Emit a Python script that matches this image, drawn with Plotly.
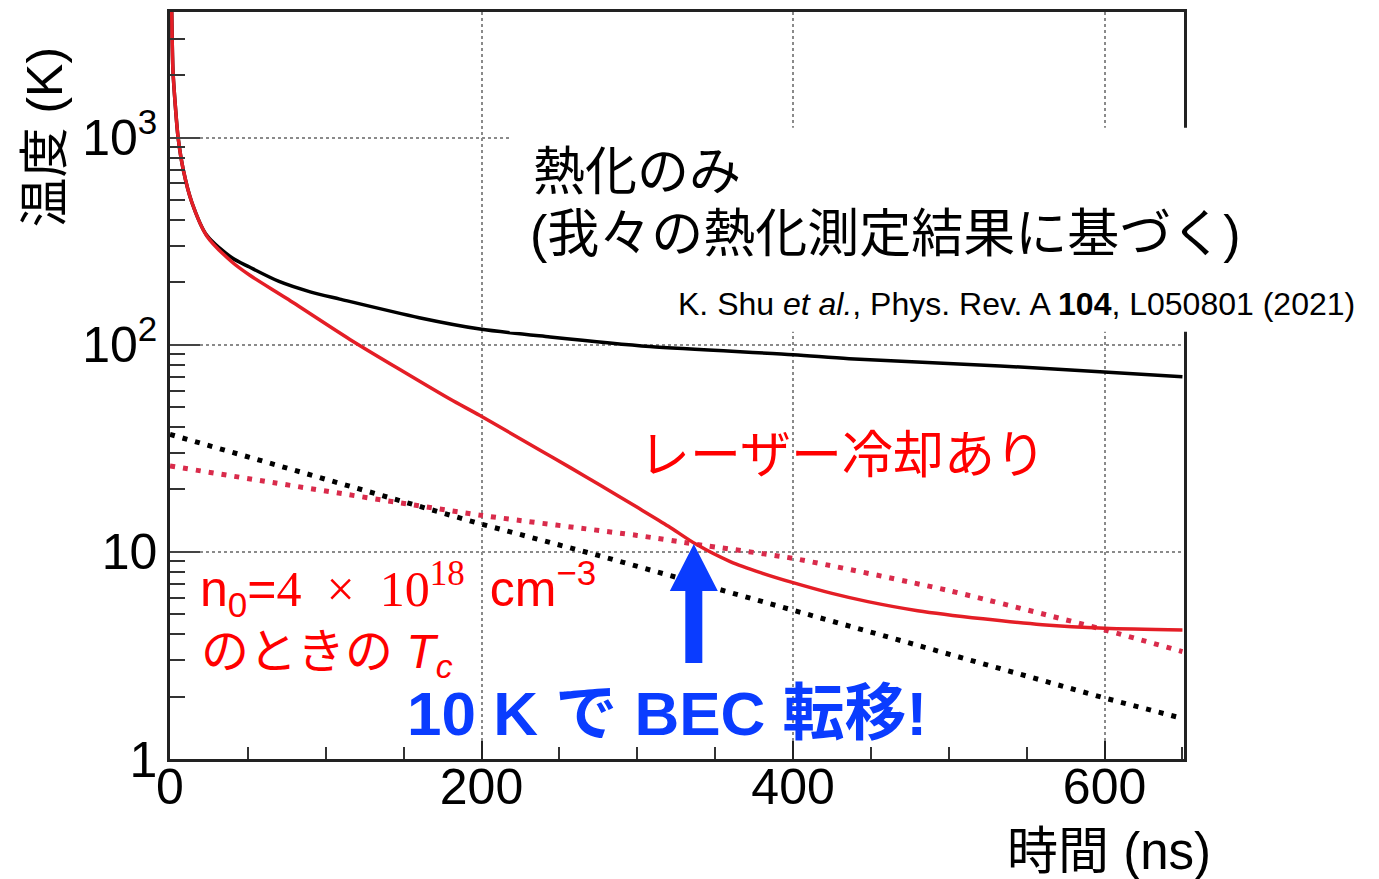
import plotly.graph_objects as go

# Time axis (ns) and temperatures (K) for each curve
t_thermal = [0.3, 1.1, 1.9, 3.5, 5.2, 8.5, 14, 23.5, 40, 51, 70, 90, 109, 160, 199, 244, 308, 400, 436, 533, 597, 650]
T_thermal = [9000, 4000, 2100, 1400, 1000, 700, 487, 338, 262, 237, 202, 180, 166, 135, 119, 109, 98, 89.5, 85.5, 79, 74, 70]

t_laser = [0.3, 1.1, 1.9, 3.5, 5.2, 8.5, 14, 23.5, 40, 51, 75, 115.5, 150, 180, 199, 239, 257, 276, 300, 320, 337.6,
           360, 380, 400, 425, 448, 480, 522, 560, 600, 650]
T_laser = [9000, 4000, 2100, 1400, 1000, 700, 487, 336, 250, 217, 167, 106, 74, 54.5, 45.5, 30.5, 25.5, 21, 16.4, 13.3, 10.9,
           8.95, 7.9, 7.1, 6.3, 5.75, 5.2, 4.75, 4.45, 4.28, 4.2]

t_tc_red = [0, 61, 200, 300, 337, 400, 500, 600, 650]
T_tc_red = [26, 21.9, 15.0, 12.0, 10.9, 9.3, 6.5, 4.2, 3.3]

t_tc_black = [0, 200, 276, 400, 600, 650]
T_tc_black = [36.9, 13.6, 9.57, 5.2, 1.97, 1.57]

# BEC transition point marked by the arrow
t_bec = 336.3
T_bec = 10.9

x_ticks = [0, 200, 400, 600]
x_minor = [50, 100, 150, 250, 300, 350, 450, 500, 550, 650]
y_ticks = [1, 10, 100, 1000]
y_ticktext = ["1", "10", "10<sup>2</sup>", "10<sup>3</sup>"]
y_minor = [m * 10 ** e for e in range(0, 4) for m in range(2, 10) if m * 10 ** e < 4100]

RED = "#E41E26"
RED_DOT = "#D92B4B"
BLUE = "#0A3CFF"
NUM_FONT = "Liberation Sans Narrow, Liberation Sans, Arial, sans-serif"
JP_FONT = "Liberation Sans, Noto Sans CJK JP, sans-serif"

fig = go.Figure()

fig.add_trace(go.Scatter(x=t_tc_black, y=T_tc_black, mode="lines",
                         line=dict(color="black", width=5, dash="5px,8px")))
fig.add_trace(go.Scatter(x=t_tc_red, y=T_tc_red, mode="lines",
                         line=dict(color=RED_DOT, width=5, dash="5px,8px", shape="spline", smoothing=0.6)))
fig.add_trace(go.Scatter(x=t_thermal, y=T_thermal, mode="lines",
                         line=dict(color="black", width=3.5, shape="spline", smoothing=0.8)))
fig.add_trace(go.Scatter(x=t_laser, y=T_laser, mode="lines",
                         line=dict(color=RED, width=3.5, shape="spline", smoothing=0.8)))

fig.update_layout(
    width=1379, height=879, autosize=False,
    margin=dict(l=170, r=195, t=9, b=120),
    paper_bgcolor="white", plot_bgcolor="white",
    showlegend=False,
)

fig.update_xaxes(
    range=[0, 651],
    tickmode="array", tickvals=x_ticks,
    ticks="inside", ticklen=18, tickwidth=2, tickcolor="#222",
    ticklabelstandoff=-18,
    showline=True, linecolor="#222", linewidth=2.5, mirror=True,
    showgrid=True, gridcolor="#8a8a8a", griddash="dot", gridwidth=1.5,
    zeroline=False,
    tickfont=dict(family=NUM_FONT, size=50, color="black"),
    minor=dict(tickmode="array", tickvals=x_minor, ticks="inside", ticklen=12,
               tickwidth=1.5, tickcolor="#333", showgrid=False),
)

fig.update_yaxes(
    type="log", range=[0, 3.606],
    tickmode="array", tickvals=y_ticks, ticktext=y_ticktext,
    ticks="inside", ticklen=30, tickwidth=2, tickcolor="#444",
    showline=True, linecolor="#222", linewidth=2.5, mirror=True,
    showgrid=True, gridcolor="#8a8a8a", griddash="dot", gridwidth=1.5,
    zeroline=False,
    tickfont=dict(family=NUM_FONT, size=50, color="black"),
    minor=dict(tickmode="array", tickvals=y_minor, ticks="inside", ticklen=15,
               tickwidth=1.5, tickcolor="#333", showgrid=False),
)

# White panel behind the caption text
fig.add_shape(type="rect", xref="paper", yref="paper",
              x0=0.335, x1=1.2, y0=0.572, y1=0.845,
              fillcolor="white", line=dict(width=0), layer="above")

# Blue arrow pointing at the transition point
fig.add_shape(type="path", xref="x", yref="y",
              xsizemode="pixel", ysizemode="pixel",
              xanchor=t_bec, yanchor=T_bec,
              path="M 0 0 L 24 -47 L 8.5 -47 L 8.5 -119 L -8.5 -119 L -8.5 -47 L -24 -47 Z",
              fillcolor=BLUE, line=dict(width=0), layer="above")

def px(x):
    return (x - 170) / 1014

def py(y):
    return (759 - y) / 750

SERIF = "font-family:Liberation Serif, DejaVu Serif, serif"
EN = "\u2002"

annotations = [
    dict(text="熱化のみ", x=px(531), y=py(170), xanchor="left", yanchor="middle",
         font=dict(family=JP_FONT, size=52, color="black")),
    dict(text="(我々の熱化測定結果に基づく)", x=px(528), y=py(232), xanchor="left", yanchor="middle",
         font=dict(family=JP_FONT, size=52, color="black")),
    dict(text="K. Shu <i>et al.</i>, Phys. Rev. A <b>104</b>, L050801 (2021)",
         x=px(1357), y=py(302), xanchor="right", yanchor="middle",
         font=dict(family=NUM_FONT, size=32, color="black")),
    dict(text="レーザー冷却あり", x=px(637), y=py(450), xanchor="left", yanchor="middle",
         font=dict(family="Noto Sans CJK JP", size=51, color="#FF0000")),
    dict(text=f"n<sub>0</sub>=<span style='{SERIF}'>4{EN}×{EN}10<sup>18</sup></span>{EN}cm<sup>−3</sup>",
         x=px(198), y=py(588), xanchor="left", yanchor="middle",
         font=dict(family="Liberation Sans, sans-serif", size=50, color="#FF0000")),
    dict(text="のときの <i>T</i><sub><i>c</i></sub>", x=px(199), y=py(655), xanchor="left", yanchor="middle",
         font=dict(family=JP_FONT, size=48, color="#FF0000")),
    dict(text="<b>10 K で BEC 転移!</b>", x=px(667), y=py(713), xanchor="center", yanchor="middle",
         font=dict(family="Liberation Sans, Noto Sans CJK JP, sans-serif", size=62, color=BLUE)),
    dict(text="温度 (K)", x=px(45), y=py(135), xanchor="center", yanchor="middle", textangle=-90,
         font=dict(family=JP_FONT, size=50, color="black")),
    dict(text="時間 (ns)", x=px(1213), y=py(852), xanchor="right", yanchor="middle",
         font=dict(family=JP_FONT, size=51, color="black")),
]
for a in annotations:
    fig.add_annotation(xref="paper", yref="paper", showarrow=False, **a)

fig.write_html("out.html")
